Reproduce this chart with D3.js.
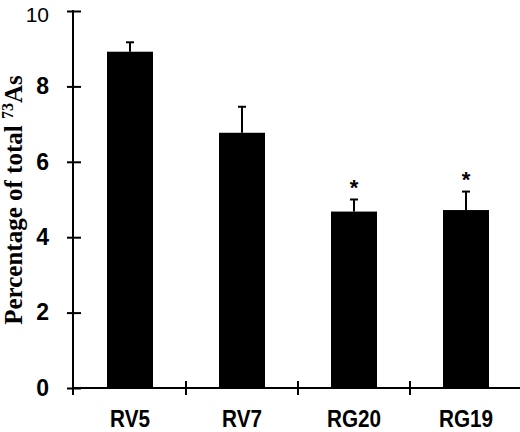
<!DOCTYPE html>
<html>
<head>
<meta charset="utf-8">
<script src="https://cdn.jsdelivr.net/npm/d3@7"></script>
<style>
  body { margin: 0; background: #fff; }
  svg { display: block; }
</style>
</head>
<body>
<div id="chart"></div>
<script>
// DATA
var categories = ["RV5", "RV7", "RG20", "RG19"]
var means = [8.92, 6.77, 4.68, 4.72]
var errors = [0.25, 0.69, 0.32, 0.49]
var significant = [false, false, true, true]
var yTicks = [0, 2, 4, 6, 8, 10]

var svgWidth = 520
var svgHeight = 432

var svg = d3.select("#chart").append("svg")
    .attr("width", svgWidth)
    .attr("height", svgHeight)

var x0 = 74, x1 = 522, yTop = 11, yBottom = 388
var barWidth = 46

var xScale = d3.scaleBand().domain(categories).range([x0, x1]).padding(0)
var yScale = d3.scaleLinear().domain([0, 10]).range([yBottom, yTop])

var data = categories.map((c, i) => ({ cat: c, mean: means[i], err: errors[i], star: significant[i] }))

// bars
svg.selectAll("rect.bar")
    .data(data)
    .enter()
    .append("rect")
    .attr("class", "bar")
    .attr("x", d => xScale(d.cat) + xScale.bandwidth() / 2 - barWidth / 2)
    .attr("y", d => yScale(d.mean))
    .attr("width", barWidth)
    .attr("height", d => yScale(0) - yScale(d.mean))
    .attr("fill", "#000")

// error bars (upper only)
var errG = svg.selectAll("g.err")
    .data(data)
    .enter()
    .append("g")
    .attr("class", "err")
    .attr("transform", d => `translate(${xScale(d.cat) + xScale.bandwidth() / 2},0)`)

errG.append("line")
    .attr("x1", 0).attr("x2", 0)
    .attr("y1", d => yScale(d.mean))
    .attr("y2", d => yScale(d.mean + d.err))
    .attr("stroke", "#000").attr("stroke-width", 2)

errG.append("line")
    .attr("x1", -4).attr("x2", 4)
    .attr("y1", d => yScale(d.mean + d.err))
    .attr("y2", d => yScale(d.mean + d.err))
    .attr("stroke", "#000").attr("stroke-width", 2)

errG.filter(d => d.star)
    .append("text")
    .attr("y", d => yScale(d.mean + d.err) - 5)
    .attr("text-anchor", "middle")
    .style("font-family", "'Liberation Sans', Arial, sans-serif")
    .style("font-weight", "bold")
    .style("font-size", "22px")
    .text("*")

// y axis
var yAxis = d3.axisLeft(yScale).tickValues(yTicks).tickSizeOuter(0).tickSize(6).tickPadding(18)
var yG = svg.append("g")
    .attr("transform", `translate(${x0 - 1},0)`)
    .call(yAxis)
yG.select(".domain").remove()
yG.append("line")
    .attr("x1", 0).attr("x2", 0)
    .attr("y1", yTop - 1).attr("y2", yBottom + 7)
    .attr("stroke", "#000").attr("stroke-width", 2)
yG.selectAll(".tick line")
    .attr("x1", 8).attr("x2", -6)
    .attr("stroke", "#000").attr("stroke-width", 2)
yG.selectAll(".tick text")
    .attr("fill", "#000")
    .style("font-family", "'Liberation Sans', Arial, sans-serif")
    .style("font-weight", d => d === 10 ? "normal" : "bold")
    .style("font-size", "23px")
// keep the top label inside the page
yG.selectAll(".tick text").filter(d => d === 10)
    .style("font-size", "21px")
    .attr("dy", "0.5em")

// x axis with ticks at band boundaries
var xAxis = d3.axisBottom(xScale).tickSize(0).tickPadding(23)
var xG = svg.append("g")
    .attr("transform", `translate(0,${yBottom})`)
    .call(xAxis)
xG.select(".domain").remove()
xG.append("line")
    .attr("x1", x0 - 1).attr("x2", svgWidth + 2)
    .attr("y1", 0).attr("y2", 0)
    .attr("stroke", "#000").attr("stroke-width", 2)
xG.selectAll("line.sep")
    .data(categories.slice(1))
    .enter()
    .append("line")
    .attr("class", "sep")
    .attr("x1", d => xScale(d)).attr("x2", d => xScale(d))
    .attr("y1", -7).attr("y2", 7)
    .attr("stroke", "#000").attr("stroke-width", 2)
xG.selectAll(".tick text")
    .attr("fill", "#000")
    .attr("transform", "scale(0.9,1)")
    .style("font-family", "'Liberation Sans', Arial, sans-serif")
    .style("font-weight", "bold")
    .style("font-size", "23px")

// y label
var yLabel = svg.append("text")
    .attr("transform", "translate(22,200) rotate(-90)")
    .attr("text-anchor", "middle")
    .style("font-family", "'Liberation Serif', 'Times New Roman', serif")
    .style("font-weight", "bold")
    .style("font-size", "25px")
    .attr("fill", "#000")
yLabel.append("tspan").text("Percentage of total ")
yLabel.append("tspan").attr("dy", -9).style("font-size", "16px").text("73")
yLabel.append("tspan").attr("dy", 9).text("As")
</script>
</body>
</html>
